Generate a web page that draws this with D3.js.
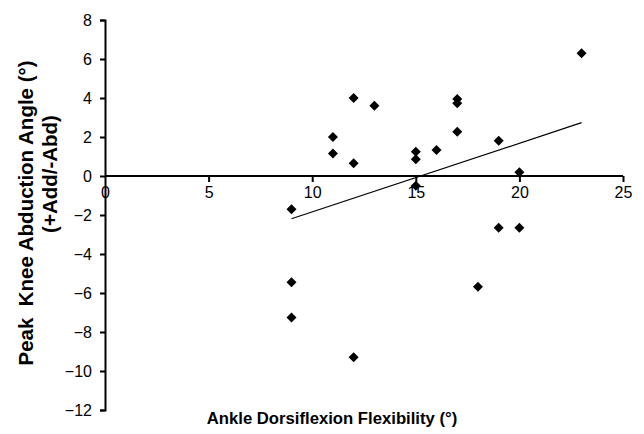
<!DOCTYPE html>
<html>
<head>
<meta charset="utf-8">
<script src="https://cdn.jsdelivr.net/npm/d3@7"></script>
<style>
  body { margin: 0; background: #fff; }
  svg { font-family: "Liberation Sans", Arial, sans-serif; }
  .axis text { font-size: 16px; fill: #000; }
  .axis path, .axis line { stroke: #000; stroke-width: 2; }
  .axis-label { font-weight: bold; fill: #000; }
</style>
</head>
<body>
<div id="chart"></div>
<script>
// data
const flexibility = [9, 9, 9, 11, 11, 12, 12, 12, 13, 15, 15, 15, 16, 17, 17, 17, 18, 19, 19, 20, 20, 23]
const kneeAngle = [-1.7, -5.45, -7.25, 2.0, 1.15, 4.0, 0.65, -9.3, 3.6, 1.25, 0.86, -0.5, 1.33, 3.95, 3.73, 2.27, -5.68, 1.81, -2.65, 0.19, -2.65, 6.29]
const xTicks = [0, 5, 10, 15, 20, 25]
const yTicks = [-12, -10, -8, -6, -4, -2, 0, 2, 4, 6, 8]

const dataset = flexibility.map((x, i) => ({x: x, y: kneeAngle[i]}))
const xAccessor = d => d.x
const yAccessor = d => d.y

let dimensions = {
  width: 644,
  height: 434,
  margin: { top: 20, right: 21, bottom: 24, left: 105 },
}
dimensions.boundedWidth = dimensions.width - dimensions.margin.left - dimensions.margin.right
dimensions.boundedHeight = dimensions.height - dimensions.margin.top - dimensions.margin.bottom

const wrapper = d3.select("#chart")
  .append("svg")
    .attr("width", dimensions.width)
    .attr("height", dimensions.height)

const bounds = wrapper.append("g")
    .attr("transform", `translate(${dimensions.margin.left},${dimensions.margin.top})`)

const xScale = d3.scaleLinear()
    .domain([0, 25])
    .range([0, dimensions.boundedWidth])

const yScale = d3.scaleLinear()
    .domain([-12, 8])
    .range([dimensions.boundedHeight, 0])

// axes
const yAxis = bounds.append("g")
    .attr("class", "axis")
    .call(d3.axisLeft(yScale).tickValues(yTicks).tickSize(5).tickSizeOuter(5).tickPadding(8))
yAxis.selectAll("text").attr("dy", "0.36em")

const xAxis = bounds.append("g")
    .attr("class", "axis")
    .attr("transform", `translate(0,${yScale(0)})`)
    .call(d3.axisBottom(xScale).tickValues(xTicks).tickSize(6).tickSizeOuter(0).tickPadding(5))
xAxis.select(".domain").attr("d", `M0,0H${dimensions.boundedWidth}`)
xAxis.selectAll(".tick").filter(d => d === 0).select("line").remove()

// regression line
const xMean = d3.mean(dataset, xAccessor)
const yMean = d3.mean(dataset, yAccessor)
const slope = d3.sum(dataset, d => (d.x - xMean) * (d.y - yMean)) / d3.sum(dataset, d => (d.x - xMean) ** 2)
const intercept = yMean - slope * xMean
const [xMin, xMax] = d3.extent(dataset, xAccessor)

bounds.append("line")
    .attr("x1", xScale(xMin))
    .attr("y1", yScale(intercept + slope * xMin))
    .attr("x2", xScale(xMax))
    .attr("y2", yScale(intercept + slope * xMax))
    .attr("stroke", "#000")
    .attr("stroke-width", 1.2)

// diamonds
bounds.selectAll(".dot")
  .data(dataset)
  .enter()
  .append("path")
    .attr("class", "dot")
    .attr("d", "M0,-5L5,0L0,5L-5,0Z")
    .attr("transform", d => `translate(${xScale(xAccessor(d))},${yScale(yAccessor(d))})`)
    .attr("fill", "#000")

// labels
wrapper.append("text")
    .attr("class", "axis-label")
    .style("font-size", "16.7px")
    .attr("x", 332)
    .attr("y", 424)
    .attr("text-anchor", "middle")
    .text("Ankle Dorsiflexion Flexibility (°)")

wrapper.append("text")
    .attr("class", "axis-label")
    .style("font-size", "20.5px")
    .attr("transform", "translate(33,213) rotate(-90)")
    .attr("text-anchor", "middle")
    .text("Peak\u00a0\u00a0Knee Abduction Angle (°)")

wrapper.append("text")
    .attr("class", "axis-label")
    .style("font-size", "20.5px")
    .attr("transform", "translate(57,174) rotate(-90)")
    .attr("text-anchor", "middle")
    .text("(+Add/-Abd)")
</script>
</body>
</html>
